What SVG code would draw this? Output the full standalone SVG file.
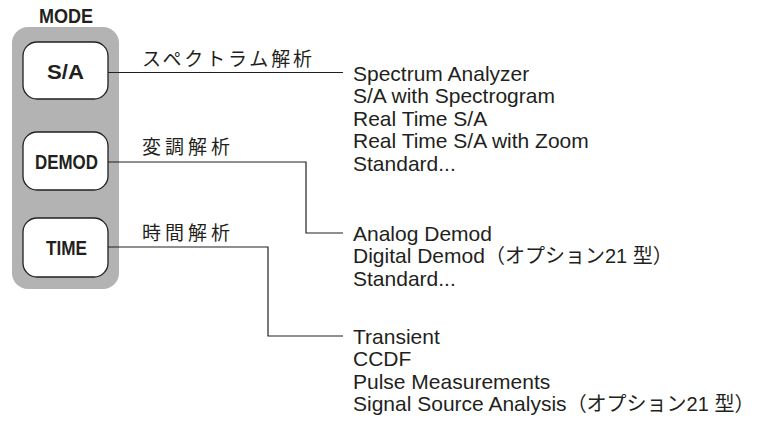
<svg xmlns="http://www.w3.org/2000/svg" width="758" height="437" viewBox="0 0 758 437">
<style>
.btn{fill:#fff;stroke:#231f20;stroke-width:1.3}
.bl{font-family:"Liberation Sans",Arial,sans-serif;font-weight:bold;font-size:20px;fill:#231f20;text-anchor:middle}
.jp{font-family:"Noto Sans CJK JP","Noto Sans CJK SC",sans-serif;font-size:19px;fill:#231f20}
.it{font-family:"Liberation Sans","Noto Sans CJK JP",Arial,sans-serif;font-size:21px;fill:#231f20}
.cj{font-size:20px}
.ln{fill:none;stroke:#231f20;stroke-width:1.2}
</style>
<rect width="758" height="437" fill="#fff"/>
<g id="mode-panel">
<text class="bl" x="66" y="23" font-size="19" textLength="54" lengthAdjust="spacingAndGlyphs">MODE</text>
<rect x="12" y="27" width="107" height="262" rx="16" fill="#b3b3b3"/>
</g>
<g id="btn-sa">
<rect class="btn" x="23" y="42" width="85" height="57" rx="14"/>
<text class="bl" x="65.5" y="78.5" textLength="37" lengthAdjust="spacingAndGlyphs">S/A</text>
</g>
<g id="btn-demod">
<rect class="btn" x="23" y="132" width="85" height="58" rx="14"/>
<text class="bl" x="66.5" y="168.5" textLength="63" lengthAdjust="spacingAndGlyphs">DEMOD</text>
</g>
<g id="btn-time">
<rect class="btn" x="23" y="218" width="85" height="59" rx="14"/>
<text class="bl" x="66.5" y="255" textLength="41" lengthAdjust="spacingAndGlyphs">TIME</text>
</g>
<g id="connectors">
<polyline class="ln" points="108,72.5 343,72.5"/>
<polyline class="ln" points="108,162 306,162 306,233 343,233"/>
<polyline class="ln" points="108,247 268,247 268,336 343,336"/>
</g>
<g id="labels">
<text class="jp" x="142" y="66" textLength="170" lengthAdjust="spacing">スペクトラム解析</text>
<text class="jp" x="142" y="154" textLength="88" lengthAdjust="spacing">変調解析</text>
<text class="jp" x="142" y="240" textLength="88" lengthAdjust="spacing">時間解析</text>
</g>
<g id="sa-list">
<text class="it" x="353" y="80.5">Spectrum Analyzer</text>
<text class="it" x="353" y="103">S/A with Spectrogram</text>
<text class="it" x="353" y="125.5">Real Time S/A</text>
<text class="it" x="353" y="148">Real Time S/A with Zoom</text>
<text class="it" x="353" y="170.5">Standard...</text>
</g>
<g id="demod-list">
<text class="it" x="353" y="240.5">Analog Demod</text>
<text class="it" x="353" y="263">Digital Demod<tspan class="cj">（オプション21 型）</tspan></text>
<text class="it" x="353" y="285.5">Standard...</text>
</g>
<g id="time-list">
<text class="it" x="353" y="343.5">Transient</text>
<text class="it" x="353" y="366">CCDF</text>
<text class="it" x="353" y="388.5">Pulse Measurements</text>
<text class="it" x="353" y="411">Signal Source Analysis<tspan class="cj">（オプション21 型）</tspan></text>
</g>
</svg>
